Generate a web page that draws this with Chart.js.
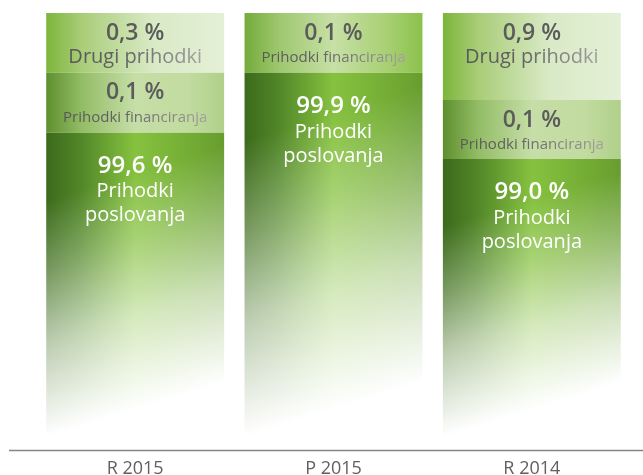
<!DOCTYPE html>
<html>
<head>
<meta charset="utf-8">
<script src="https://cdn.jsdelivr.net/npm/chart.js@4"></script>
<style>
  html, body { margin: 0; padding: 0; background: #fff; }
  #wrap { width: 643px; height: 475px; }
</style>
</head>
<body>
<div id="wrap"><canvas id="revenueChart" width="643" height="475"></canvas></div>
<script>
const categories = ["R 2015", "P 2015", "R 2014"]

// odstotki (napisi v stolpcih)
const poslovanjaPct = [99.6, 99.9, 99.0]
const financiranjaPct = [0.1, 0.1, 0.1]
const drugiPct = [0.3, null, 0.9]

// deleži višine stolpca, kot so narisani na sliki
const poslovanjaShare = [72.6, 86.3, 66.6]
const financiranjaShare = [13.7, 13.7, 13.5]
const drugiShare = [13.7, 0, 19.9]

const FONT = "'Open Sans', 'Noto Sans', sans-serif"

function fmt(v) {
  return v.toFixed(1).replace(".", ",") + " %"
}

function barGradient(ctx, stops) {
  const chart = ctx.chart
  const x = chart.scales.x
  if (!chart.chartArea || !x) return stops[0][1]
  const cx = x.getPixelForValue(ctx.dataIndex)
  const half = (x.getPixelForValue(1) - x.getPixelForValue(0)) * 0.897 / 2
  const g = chart.ctx.createLinearGradient(cx - half, 0, cx + half, 0)
  stops.forEach((s) => g.addColorStop(s[0], s[1]))
  return g
}

const poslovanjaStops = [[0, "#3c6a1b"], [0.18, "#4f8427"], [0.5, "#86c23f"], [0.8, "#74ad35"], [1, "#679d2f"]]
const financiranjaStops = [[0, "#5e8f2e"], [0.2, "#93bd66"], [0.5, "#c6dea7"], [0.8, "#c2db9f"], [1, "#b0d08a"]]
const financiranjaTopStops = [[0, "#74ab3a"], [0.2, "#9fc870"], [0.5, "#c7e0a6"], [0.8, "#a8d073"], [1, "#8bc14c"]]
const drugiStops = [[0, "#7cb53b"], [0.2, "#a9cd78"], [0.6, "#d9eac6"], [1, "#e4f0d6"]]

// [besedilo, pisava, odmik od vrha segmenta, prelivanje barve]
const textLines = {
  0: (v) => [[fmt(v), "600 24px " + FONT, 33, false], ["Prihodki", "20px " + FONT, 59, false], ["poslovanja", "20px " + FONT, 83, false]],
  1: (v) => [[fmt(v), "600 23px " + FONT, 20, false], ["Prihodki financiranja", "15px " + FONT, 45, true]],
  2: (v) => [[fmt(v), "600 23px " + FONT, 20, false], ["Drugi prihodki", "20px " + FONT, 44, true]],
}
const pctSets = [poslovanjaPct, financiranjaPct, drugiPct]

const barDecor = {
  id: "barDecor",
  afterDatasetsDraw(chart) {
    const ctx = chart.ctx
    // bela zatemnitev spodnjega dela stolpcev
    const meta = chart.getDatasetMeta(0)
    const dx = 0.295, dy = 0.955
    meta.data.forEach((bar) => {
      const left = bar.x - bar.width / 2 - 1
      const ys = bar.y + 40
      const ye = bar.base - 40
      const t = (ye - ys) * dy
      const g = ctx.createLinearGradient(bar.x, ys, bar.x + dx * t, ys + dy * t)
      g.addColorStop(0, "rgba(255,255,255,0)")
      g.addColorStop(0.3, "rgba(255,255,255,0.3)")
      g.addColorStop(0.6, "rgba(255,255,255,0.65)")
      g.addColorStop(1, "rgba(255,255,255,1)")
      ctx.save()
      ctx.fillStyle = g
      ctx.fillRect(left, bar.y + 1, bar.width + 2, bar.base - bar.y)
      ctx.restore()
    })

    // napisi v segmentih
    ctx.save()
    ctx.textAlign = "center"
    ctx.textBaseline = "middle"
    chart.data.datasets.forEach((ds, di) => {
      chart.getDatasetMeta(di).data.forEach((bar, i) => {
        const v = pctSets[di][i]
        if (v == null || !ds.data[i]) return
        const top = Math.min(bar.y, bar.base)
        textLines[di](v).forEach(([txt, font, off, fade]) => {
          ctx.font = font
          if (di === 0) {
            ctx.fillStyle = "#ffffff"
          } else if (fade) {
            const w = ctx.measureText(txt).width / 2
            const g = ctx.createLinearGradient(bar.x - w, 0, bar.x + w, 0)
            g.addColorStop(0, "#585858")
            g.addColorStop(0.4, "#626262")
            g.addColorStop(1, "#a2a2a2")
            ctx.fillStyle = g
          } else {
            ctx.fillStyle = "#5b5b5b"
          }
          ctx.fillText(txt, bar.x, top + off)
        })
      })
    })
    ctx.restore()

    // os x
    const y = chart.scales.x.top + 0.5
    ctx.save()
    ctx.strokeStyle = "#858585"
    ctx.lineWidth = 1.3
    ctx.beginPath()
    ctx.moveTo(9, y)
    ctx.lineTo(643, y)
    ctx.stroke()
    ctx.restore()
  },
}

new Chart(document.getElementById("revenueChart"), {
  type: "bar",
  data: {
    labels: categories,
    datasets: [
      {
        label: "Prihodki poslovanja",
        data: poslovanjaShare,
        backgroundColor: (c) => barGradient(c, poslovanjaStops),
      },
      {
        label: "Prihodki financiranja",
        data: financiranjaShare,
        backgroundColor: (c) => barGradient(c, drugiShare[c.dataIndex] ? financiranjaStops : financiranjaTopStops),
      },
      {
        label: "Drugi prihodki",
        data: drugiShare,
        backgroundColor: (c) => barGradient(c, drugiStops),
      },
    ],
  },
  options: {
    responsive: false,
    animation: false,
    events: [],
    categoryPercentage: 1,
    barPercentage: 0.897,
    borderWidth: 0,
    layout: { padding: { left: 36, right: 12, top: 13, bottom: 0 } },
    plugins: { legend: { display: false }, tooltip: { enabled: false } },
    scales: {
      x: {
        stacked: true,
        grid: { display: false, drawTicks: false },
        border: { display: false },
        ticks: { color: "#606060", padding: 8, font: { family: FONT, size: 18 } },
        afterFit: (scale) => { scale.height = 25 },
      },
      y: {
        stacked: true,
        display: false,
        min: 0,
        max: 100,
      },
    },
  },
  plugins: [barDecor],
})
</script>
</body>
</html>
